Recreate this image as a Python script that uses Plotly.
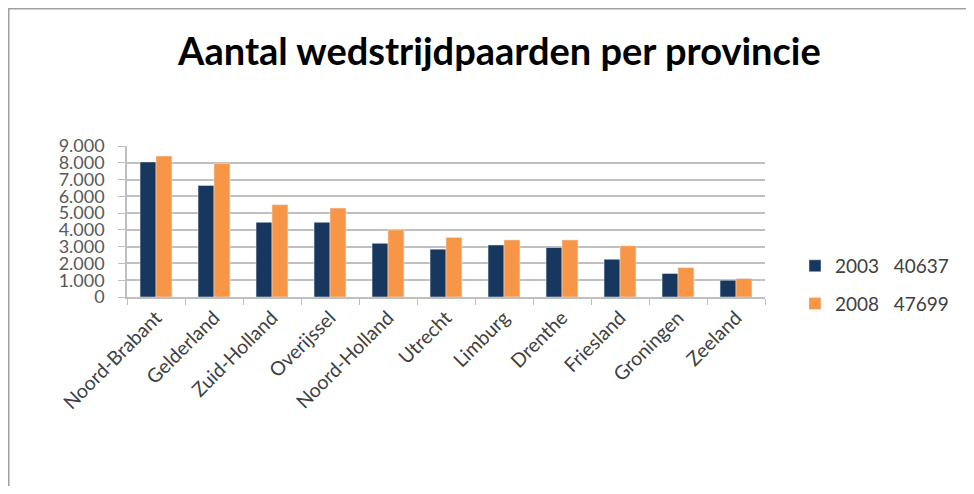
import plotly.graph_objects as go

provincies = ["Noord-Brabant", "Gelderland", "Zuid-Holland", "Overijssel", "Noord-Holland",
              "Utrecht", "Limburg", "Drenthe", "Friesland", "Groningen", "Zeeland"]
waarden_2003 = [8050, 6650, 4450, 4450, 3200, 2850, 3100, 2950, 2250, 1400, 1000]
waarden_2008 = [8400, 7950, 5500, 5300, 4000, 3550, 3400, 3400, 3050, 1750, 1100]
naam_2003 = "2003   40637"
naam_2008 = "2008   47699"
y_ticks = [0, 1000, 2000, 3000, 4000, 5000, 6000, 7000, 8000, 9000]
y_labels = ["0", "1.000", "2.000", "3.000", "4.000", "5.000", "6.000", "7.000", "8.000", "9.000"]

FONT = "Lato, 'Open Sans', sans-serif"

fig = go.Figure()
fig.add_trace(go.Bar(x=provincies, y=waarden_2003, name=naam_2003,
                     marker_color="#17375E", legendgroup="a"))
fig.add_trace(go.Bar(x=provincies, y=waarden_2008, name=naam_2008,
                     marker_color="#F79646", legendgroup="b"))

# grijze rand rond de grafiek (rechts en onder buiten beeld)
fig.add_shape(type="rect", xref="paper", yref="paper",
              x0=-0.1857, x1=2.0, y0=-2.0, y1=1.9106,
              line=dict(color="#a0a0a0", width=2), fillcolor="rgba(0,0,0,0)")

fig.update_layout(
    width=958, height=478,
    margin=dict(l=119, r=201, t=138, b=189, autoexpand=False),
    paper_bgcolor="white", plot_bgcolor="white",
    font=dict(family=FONT, color="#404040"),
    title=dict(text="<b>Aantal wedstrijdpaarden per provincie</b>",
               x=0.513, xanchor="center", y=0.908, yanchor="middle",
               font=dict(size=38, color="#000000", family=FONT)),
    barmode="group", bargap=0.45, bargroupgap=0,
    showlegend=True,
    legend=dict(x=1.047, xanchor="left", y=0.08, yanchor="middle",
                font=dict(size=19, color="#404040"), itemwidth=30,
                traceorder="grouped", tracegroupgap=10, bgcolor="rgba(0,0,0,0)"),
    xaxis=dict(tickangle=-45, tickfont=dict(size=19.5, color="#404040"),
               automargin=False,
               showline=True, linecolor="#bfbfbf", linewidth=1.5,
               ticks="outside", tickson="boundaries", ticklen=6, tickcolor="#bfbfbf"),
    yaxis=dict(range=[0, 9000], tickvals=y_ticks, ticktext=y_labels,
               tickfont=dict(size=18, color="#595959"), automargin=False,
               ticklabelstandoff=10,
               showgrid=True, gridcolor="#c0c0c0", gridwidth=2,
               showline=True, linecolor="#bfbfbf", linewidth=1.5,
               ticks="outside", ticklen=7, tickcolor="#bfbfbf", zeroline=False),
)

fig.write_html("out.html")
